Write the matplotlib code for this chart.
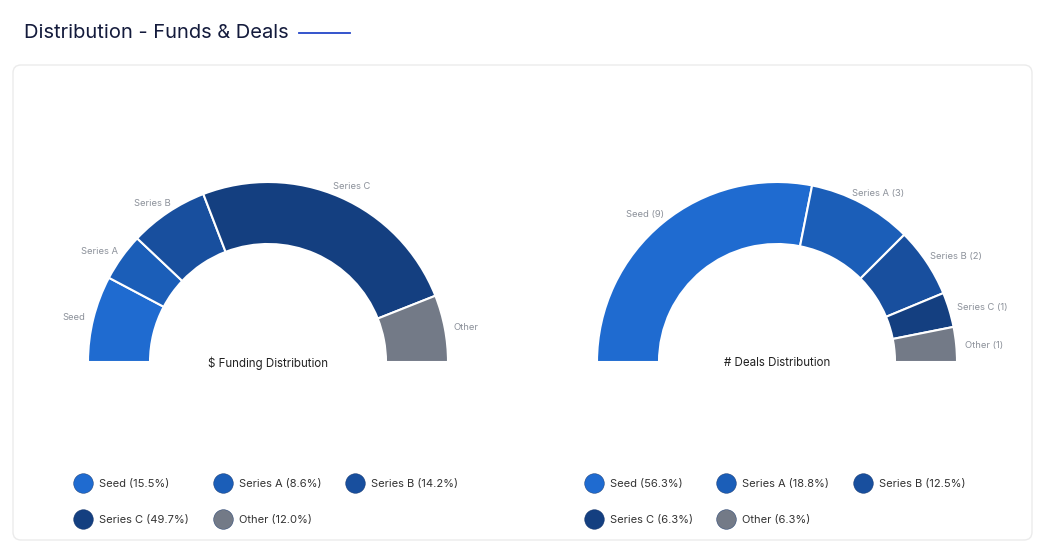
import numpy as np
import matplotlib.pyplot as plt
from matplotlib.patches import FancyBboxPatch

plt.rcParams['font.family'] = ['Inter', 'DejaVu Sans']

# data
stages = ['Seed', 'Series A', 'Series B', 'Series C', 'Other']
colors = ['#1f6bd0', '#1b5eb8', '#184f9e', '#143f80', '#737a87']
funding_pct = [15.5, 8.6, 14.2, 49.7, 12.0]
deal_counts = [9, 3, 2, 1, 1]
deal_pct = [56.3, 18.8, 12.5, 6.3, 6.3]

W, H = 1050, 555
fig = plt.figure(figsize=(W / 100, H / 100), dpi=100)
ax = fig.add_axes([0, 0, 1, 1])
ax.set_axis_off()


def py(y):
    # pixel row -> data y
    return H - y


# title + line
ax.text(24, py(33), 'Distribution - Funds & Deals', fontsize=14.5, color='#141b3c',
        va='center', ha='left')
ax.plot([299, 350], [py(33), py(33)], color='#2447c8', lw=1.3)

# panel
ax.add_patch(FancyBboxPatch((13, py(540)), 1019, 475,
                            boxstyle='round,pad=0,rounding_size=8',
                            fc='white', ec='#ebebeb', lw=1))

R, r = 180, 118
renderer = fig.canvas.get_renderer()


def half_donut(cx, cy, values, labels, title):
    vals = list(values) + [sum(values)]
    wedges, _ = ax.pie(vals, center=(cx, py(cy)), radius=R, startangle=180,
                       counterclock=False, colors=colors + ['white'],
                       wedgeprops=dict(width=R - r, edgecolor='white', linewidth=1.5),
                       frame=True)
    wedges[-1].set_visible(False)
    for w, lab in zip(wedges[:-1], labels):
        ang = np.deg2rad((w.theta1 + w.theta2) / 2)
        x = cx + 1.05 * R * np.cos(ang)
        y = py(cy) + 1.05 * R * np.sin(ang)
        t = ax.text(x, y, lab, fontsize=6.8, color='#8d929b', ha='center', va='center')
        bb = t.get_window_extent(renderer)
        t.set_x(x + np.cos(ang) * bb.width / 2)
        t.set_y(y + np.sin(ang) * bb.height / 2 - 2)
    ax.text(cx, py(cy + 1), title, fontsize=8.3, color='#222222', ha='center',
            va='center', parse_math=False)


half_donut(268, 362, funding_pct, stages, '$ Funding Distribution')
half_donut(777, 362, deal_counts,
           ['%s (%d)' % (s, n) for s, n in zip(stages, deal_counts)],
           '# Deals Distribution')


def legend(xs, pcts):
    pos = [(xs[0], 483), (xs[1], 483), (xs[2], 483), (xs[0], 519), (xs[1], 519)]
    for (lx, ly), s, p, c in zip(pos, stages, pcts, colors):
        ax.scatter([lx], [py(ly)], s=200, color=c, edgecolor='#0f2f66', linewidth=0.3,
                   zorder=3)
        ax.text(lx + 16, py(ly + 1), '%s (%.1f%%)' % (s, p), fontsize=8, color='#333333',
                ha='left', va='center')


legend([83, 223, 355], funding_pct)
legend([594, 726, 863], deal_pct)

ax.set_xlim(0, W)
ax.set_ylim(0, H)
ax.set_aspect('equal')
fig.savefig('out.png', dpi=100)
